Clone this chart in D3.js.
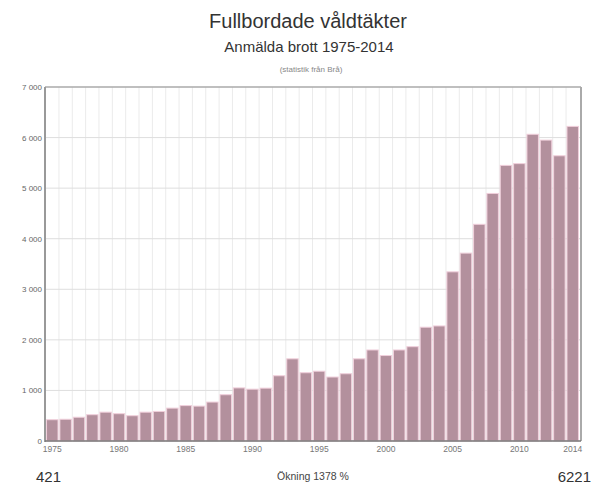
<!DOCTYPE html>
<html>
<head>
<meta charset="utf-8">
<script src="https://cdn.jsdelivr.net/npm/d3@7"></script>
<style>
  html, body { margin: 0; padding: 0; background: #fff; }
  svg { display: block; font-family: "Liberation Sans", Arial, sans-serif; }
</style>
</head>
<body>
<svg id="chart" width="592" height="485"></svg>
<script>
const years = d3.range(1975, 2015);
const values = [421, 430, 470, 520, 570, 540, 500, 570, 585, 650,
                700, 690, 770, 915, 1050, 1025, 1045, 1290, 1625, 1350,
                1380, 1265, 1330, 1625, 1800, 1690, 1800, 1865, 2250, 2275,
                3345, 3715, 4285, 4895, 5450, 5485, 6065, 5950, 5640, 6221];
const xTickYears = [1975, 1980, 1985, 1990, 1995, 2000, 2005, 2010, 2014];
const yTicks = [0, 1000, 2000, 3000, 4000, 5000, 6000, 7000];
const titleText = "Fullbordade våldtäkter";
const subtitleText = "Anmälda brott 1975-2014";
const noteText = "(statistik från Brå)";
const startLabel = "421";
const endLabel = "6221";
const changeLabel = "Ökning 1378 %";

const svg = d3.select("#chart");
const pLeft = 45, pRight = 581, pTop = 87, pBottom = 441;

const x = d3.scaleBand().domain(years).range([46, 579]).paddingInner(0.14).paddingOuter(0.04);
const y = d3.scaleLinear().domain([0, 7000]).range([pBottom, pTop]);

const fmt = d3.formatLocale({decimal: ",", thousands: " ", grouping: [3], currency: ["", " kr"]}).format(",d");

// vertical grid lines at band boundaries
const step = x.step();
svg.append("g").selectAll("line").data(years.slice(1)).join("line")
  .attr("x1", d => x(d) - step * x.paddingInner() / 2)
  .attr("x2", d => x(d) - step * x.paddingInner() / 2)
  .attr("y1", pTop).attr("y2", pBottom)
  .attr("stroke", "#ebebeb").attr("stroke-width", 1);

// horizontal grid lines
svg.append("g").selectAll("line").data(yTicks.slice(1, -1)).join("line")
  .attr("x1", pLeft).attr("x2", pRight)
  .attr("y1", d => y(d)).attr("y2", d => y(d))
  .attr("stroke", "#dedede").attr("stroke-width", 1);

// bars
svg.append("g").selectAll("rect").data(years).join("rect")
  .attr("x", d => x(d))
  .attr("width", x.bandwidth())
  .attr("y", (d, i) => y(values[i]))
  .attr("height", (d, i) => pBottom - y(values[i]))
  .attr("fill", "#b3909d")
  .attr("stroke", "#f0cfdb")
  .attr("stroke-width", 1);

// frame
svg.append("line").attr("x1", pLeft).attr("x2", pRight).attr("y1", pTop).attr("y2", pTop)
  .attr("stroke", "#aaa").attr("stroke-width", 1.5);
svg.append("line").attr("x1", pRight).attr("x2", pRight).attr("y1", pTop).attr("y2", pBottom)
  .attr("stroke", "#aaa").attr("stroke-width", 2);
svg.append("line").attr("x1", pLeft).attr("x2", pLeft).attr("y1", pTop).attr("y2", pBottom + 1)
  .attr("stroke", "#999").attr("stroke-width", 2);
svg.append("line").attr("x1", pLeft).attr("x2", pRight).attr("y1", pBottom).attr("y2", pBottom)
  .attr("stroke", "#777").attr("stroke-width", 1.5);

// y axis labels
const yAxis = d3.axisLeft(y).tickValues(yTicks).tickFormat(fmt).tickSize(0).tickPadding(3);
const gy = svg.append("g").attr("transform", `translate(${pLeft},0)`).call(yAxis);
gy.select(".domain").remove();
gy.selectAll("text").attr("font-size", 8).attr("fill", "#666").attr("font-family", "Liberation Sans, Arial, sans-serif");

// x axis labels
const xAxis = d3.axisBottom(x).tickValues(xTickYears).tickSize(0).tickPadding(5);
const gx = svg.append("g").attr("transform", `translate(0,${pBottom})`).call(xAxis);
gx.select(".domain").remove();
gx.selectAll("text").attr("font-size", 8.5).attr("fill", "#777").attr("font-family", "Liberation Sans, Arial, sans-serif");

// titles
svg.append("text").attr("x", 308).attr("y", 28).attr("text-anchor", "middle")
  .attr("font-size", 20).attr("fill", "#333").text(titleText);
svg.append("text").attr("x", 309).attr("y", 52).attr("text-anchor", "middle")
  .attr("font-size", 15).attr("fill", "#333").text(subtitleText);
svg.append("text").attr("x", 311).attr("y", 72).attr("text-anchor", "middle")
  .attr("font-size", 8).attr("fill", "#888").text(noteText);

// bottom labels
svg.append("text").attr("x", 36).attr("y", 482).attr("font-size", 15).attr("fill", "#333").text(startLabel);
svg.append("text").attr("x", 591).attr("y", 482).attr("text-anchor", "end").attr("font-size", 15).attr("fill", "#333").text(endLabel);
svg.append("text").attr("x", 313).attr("y", 480).attr("text-anchor", "middle").attr("font-size", 10.5).attr("fill", "#444").text(changeLabel);
</script>
</body>
</html>
